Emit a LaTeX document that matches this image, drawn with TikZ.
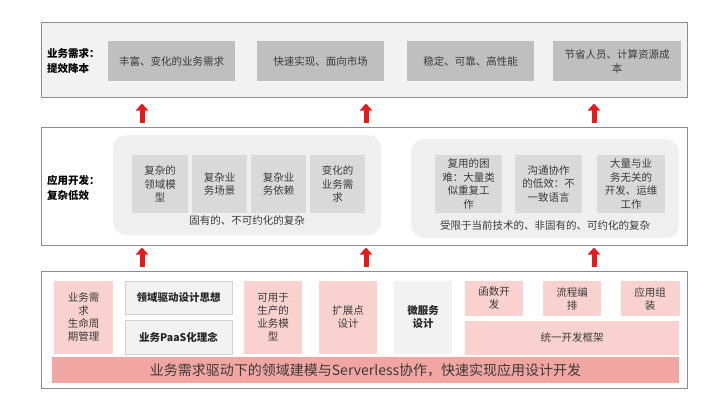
\documentclass[tikz,border=0pt]{standalone}
\usepackage{fontspec}
\setmainfont{Noto Sans CJK SC}
\usetikzlibrary{arrows.meta}
\definecolor{panelgray}{HTML}{F2F2F2}
\definecolor{panelborder}{HTML}{8C8C8C}
\definecolor{topbox}{HTML}{BFBFBF}
\definecolor{midregion}{HTML}{EFEFEF}
\definecolor{midbox}{HTML}{D9D9D9}
\definecolor{pinkbox}{HTML}{F9D1CF}
\definecolor{banner}{HTML}{F2A6A2}
\definecolor{lightbox}{HTML}{F2F2F2}
\definecolor{lightborder}{HTML}{D0D0D0}
\definecolor{txt}{HTML}{3A3A3A}
\definecolor{arrowred}{HTML}{E51A1A}
\tikzset{
  panel/.style={draw=panelborder, line width=1pt, inner sep=0pt},
  region/.style={fill=midregion, rounded corners=13pt, inner sep=0pt},
  tbox/.style={fill=topbox, inner sep=0pt, align=center, text=txt, font=\fontsize{10.5}{14}\selectfont},
  mbox/.style={fill=midbox, inner sep=0pt, align=center, text=txt, font=\fontsize{10.5}{13.5}\selectfont},
  pbox/.style={fill=pinkbox, inner sep=0pt, align=center, text=txt, font=\fontsize{10.5}{13}\selectfont},
  gbox/.style={fill=lightbox, draw=lightborder, line width=0.8pt, inner sep=0pt, align=center, text=black!85, font=\bfseries\fontsize{10.5}{13}\selectfont},
  caption/.style={inner sep=0pt, text=txt, font=\fontsize{10.5}{13}\selectfont},
  sidelabel/.style={inner sep=0pt, anchor=west, align=left, text=black, font=\bfseries\fontsize{10.5}{15}\selectfont},
  uparrow/.style={draw=arrowred, line width=5pt, -{Triangle[width=12pt,length=7pt]}, color=arrowred}
}
\begin{document}
\begin{tikzpicture}[x=1pt,y=-1pt]
\useasboundingbox (0,0) rectangle (728,410);

% ---------- top panel ----------
\node[panel, fill=panelgray, minimum width=646pt, minimum height=75pt] (toppanel) at (364,59.5) {};
\node[sidelabel] (toplabel) at (47,61) {业务需求：\\提效降本};
\node[tbox, minimum width=127pt, minimum height=40pt] (t1) at (171.5,61) {丰富、变化的业务需求};
\node[tbox, minimum width=127pt, minimum height=40pt] (t2) at (320.5,61) {快速实现、面向市场};
\node[tbox, minimum width=127pt, minimum height=40pt] (t3) at (470.5,61) {稳定、可靠、高性能};
\node[tbox, minimum width=128pt, minimum height=40pt] (t4) at (617,61) {节省人员、计算资源成\\本};

% ---------- middle panel ----------
\node[panel, fill=white, minimum width=646pt, minimum height=118pt] (midpanel) at (364,186) {};
\node[sidelabel] (midlabel) at (47,188) {应用开发：\\复杂低效};
\node[region, minimum width=268pt, minimum height=100pt] (leftregion) at (247,185) {};
\node[region, minimum width=268pt, minimum height=99pt] (rightregion) at (545,188.5) {};
\node[mbox, minimum width=56pt, minimum height=58pt] (m1) at (160,184) {复杂的\\领域模\\型};
\node[mbox, minimum width=55pt, minimum height=58pt] (m2) at (219.5,184) {复杂业\\务场景};
\node[mbox, minimum width=55pt, minimum height=58pt] (m3) at (278.5,184) {复杂业\\务依赖};
\node[mbox, minimum width=55pt, minimum height=58pt] (m4) at (337.5,184) {变化的\\业务需\\求};
\node[caption] (leftcap) at (247,220) {固有的、不可约化的复杂};
\node[mbox, minimum width=67pt, minimum height=58pt] (m5) at (468.5,184) {复用的困\\难：大量类\\似重复工\\作};
\node[mbox, minimum width=67pt, minimum height=58pt] (m6) at (548.5,184) {沟通协作\\的低效：不\\一致语言};
\node[mbox, minimum width=68pt, minimum height=58pt] (m7) at (631,184) {大量与业\\务无关的\\开发、运维\\工作};
\node[caption] (rightcap) at (545,225) {受限于当前技术的、非固有的、可约化的复杂};

% ---------- bottom panel ----------
\node[panel, fill=white, minimum width=646pt, minimum height=117pt] (botpanel) at (364,329.5) {};
\node[pbox, minimum width=59pt, minimum height=73pt] (b1) at (83.5,317.5) {业务需\\求\\生命周\\期管理};
\node[gbox, minimum width=107pt, minimum height=33pt] (b2) at (178.5,297.5) {领域驱动设计思想};
\node[gbox, minimum width=107pt, minimum height=34pt] (b3) at (178.5,337) {业务PaaS化理念};
\node[pbox, minimum width=58pt, minimum height=73pt] (b4) at (273,317.5) {可用于\\生产的\\业务模\\型};
\node[pbox, minimum width=58pt, minimum height=73pt] (b5) at (348,317.5) {扩展点\\设计};
\node[gbox, draw=none, minimum width=58pt, minimum height=73pt] (b6) at (423,317.5) {微服务\\设计};
\node[pbox, minimum width=58pt, minimum height=35pt] (b7) at (494,298.5) {函数开\\发};
\node[pbox, minimum width=58pt, minimum height=35pt] (b8) at (572,298.5) {流程编\\排};
\node[pbox, minimum width=59pt, minimum height=35pt] (b9) at (650,298.5) {应用组\\装};
\node[pbox, minimum width=214pt, minimum height=34pt] (b10) at (572,338) {统一开发框架};
\node[fill=banner, inner sep=0pt, minimum width=627pt, minimum height=26pt, text=txt, font=\fontsize{14}{16}\selectfont] (bannerbox) at (365.5,370) {业务需求驱动下的领域建模与Serverless协作，快速实现应用设计开发};

% ---------- arrows ----------
\coordinate (a1s) at (142,123);
\coordinate (a1e) at (142,103.5);
\coordinate (a2s) at (366,123);
\coordinate (a2e) at (366,103.5);
\coordinate (a3s) at (594,123);
\coordinate (a3e) at (594,103.5);
\coordinate (a4s) at (142,267);
\coordinate (a4e) at (142,247.5);
\coordinate (a5s) at (366,267);
\coordinate (a5e) at (366,247.5);
\coordinate (a6s) at (594,267);
\coordinate (a6e) at (594,247.5);
\foreach \i in {1,...,6} {
  \draw[uparrow] (a\i s) -- (a\i e);
}
\end{tikzpicture}
\end{document}
